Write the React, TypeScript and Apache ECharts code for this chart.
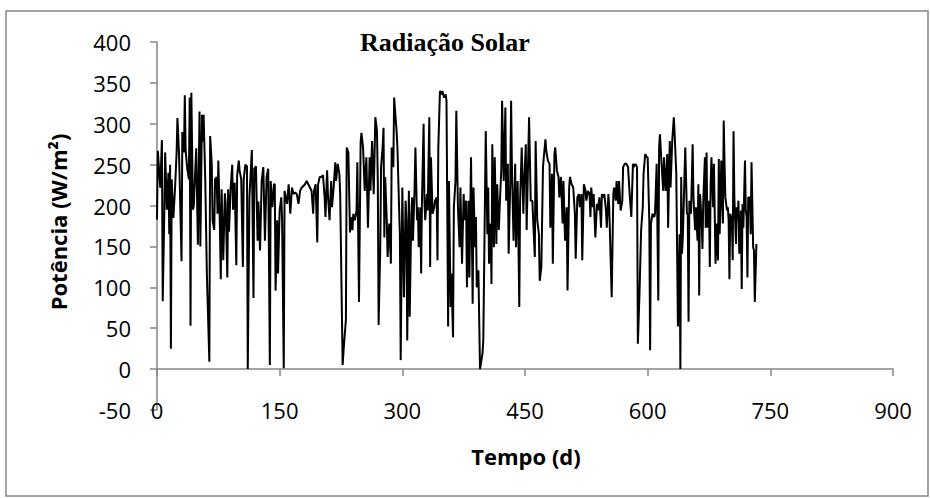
import React, { useEffect, useRef } from "react";
import * as echarts from "echarts";

// Tick settings
const xTicks = { min: 0, max: 900, interval: 150 };
const yTicks = { min: -50, max: 400, interval: 50 };

const chartTitle = "Radiação Solar";
const xName = "Tempo (d)";
const yName = "Potência (W/m²)";

// [day, W/m²], by segment
const year1a: [number, number][] = [
  [0, 183], [1, 267], [4, 222], [6, 280], [7, 83], [9, 195], [10, 265], [12, 195], [14, 240], [15, 165],
  [16, 250], [17, 25], [18, 232], [20, 185], [22, 220], [24, 265], [25, 307], [27, 262], [28, 220], [30, 132],
  [31, 290], [33, 265], [34, 335], [35, 268], [37, 245], [39, 232], [40, 332], [41, 53], [42, 338], [44, 195],
  [45, 200], [47, 248], [48, 270], [50, 152], [52, 315], [53, 150], [55, 311], [56, 278], [57, 311], [59, 232],
  [61, 115], [64, 9], [65, 285], [67, 250], [68, 182], [70, 170], [71, 232], [73, 235], [74, 190], [75, 255],
  [77, 170], [78, 110], [79, 220], [81, 133], [83, 215], [84, 202], [86, 112], [87, 220], [88, 168], [90, 220],
  [92, 250], [93, 195], [95, 228], [97, 127], [98, 237], [100, 255], [101, 243], [103, 232], [105, 125], [106, 232],
  [108, 250], [110, 248], [111, 0], [113, 210], [116, 268], [118, 87], [119, 245], [121, 248], [123, 157], [124, 205],
];
const year1b: [number, number][] = [
  [126, 145], [128, 230], [130, 247], [132, 157], [134, 235], [136, 245], [138, 5], [139, 230], [141, 198], [143, 226],
  [144, 226], [145, 96], [147, 182], [148, 117], [150, 194], [152, 210], [153, 182], [155, 1], [156, 218], [159, 202],
  [161, 226], [163, 190], [165, 222], [167, 214], [169, 216], [171, 214], [173, 202], [175, 218], [177, 222], [179, 224],
  [181, 226], [183, 230], [185, 226], [187, 222], [189, 218], [191, 190], [192, 218], [194, 226], [196, 155], [197, 226],
  [199, 235], [201, 235], [203, 237], [205, 210], [206, 186], [208, 243], [209, 214], [211, 182], [213, 230], [214, 198],
  [216, 222], [218, 253], [219, 230], [221, 251], [223, 239], [224, 214], [227, 5], [229, 35], [231, 60], [232, 271],
  [234, 265], [236, 167], [237, 186], [239, 170], [240, 190], [242, 182], [244, 194], [245, 253], [247, 82], [249, 277],
  [250, 289], [252, 271], [254, 218],
];
const year1c: [number, number][] = [
  [256, 259], [258, 173], [260, 259], [261, 218], [263, 279], [265, 214], [267, 308], [269, 291], [270, 230], [271, 54],
  [273, 149], [274, 247], [276, 273], [277, 295], [278, 161], [279, 235], [281, 182], [282, 137], [284, 178], [286, 129],
  [287, 271], [289, 247], [290, 332], [292, 304], [293, 291], [294, 271], [296, 198], [297, 165], [298, 11], [300, 222],
  [301, 157], [302, 88], [304, 206], [305, 182], [306, 35], [308, 218], [309, 64], [311, 190], [312, 210], [313, 157],
  [315, 222], [316, 271], [318, 182], [319, 198], [320, 149], [322, 198], [323, 117], [324, 206], [326, 300], [327, 206],
  [328, 182], [330, 214], [331, 194], [333, 308], [334, 125], [335, 259], [337, 190], [339, 198], [340, 206], [342, 210],
  [343, 133], [344, 271], [346, 340], [348, 336], [349, 340], [351, 332], [353, 336], [354, 328], [356, 52], [357, 230],
  [359, 76], [360, 117], [362, 39], [363, 198], [365, 230],
];
const year2a: [number, number][] = [
  [366, 316], [368, 198], [370, 149], [371, 222], [373, 129], [375, 214], [376, 182], [378, 206], [379, 100], [381, 206],
  [382, 112], [384, 259], [386, 80], [387, 222], [389, 149], [390, 186], [391, 100], [393, 121], [395, 0], [398, 19],
  [399, 35], [402, 291], [404, 165], [405, 222], [406, 129], [408, 178], [409, 104], [410, 275], [412, 149], [413, 259],
  [415, 153], [416, 226], [418, 170], [419, 198], [421, 243], [422, 328], [424, 230], [426, 320], [427, 206], [429, 251],
  [430, 141], [432, 230], [433, 328], [434, 247], [436, 157], [438, 251], [439, 149], [441, 230], [443, 76], [444, 206],
  [446, 271], [448, 190], [449, 230], [451, 275], [452, 170], [454, 263], [455, 308], [457, 206], [459, 206], [460, 182],
  [462, 137], [463, 279], [465, 182], [467, 165], [468, 108], [470, 125], [472, 247], [473, 259], [475, 281], [476, 267],
  [478, 255], [480, 251], [481, 173], [483, 239], [484, 129], [486, 263], [487, 271], [489, 243], [491, 235], [492, 210],
  [494, 235], [496, 178], [497, 230], [499, 157], [501, 198], [502, 96], [504, 222], [505, 235], [507, 226], [509, 222],
];
const year2b: [number, number][] = [
  [511, 190], [512, 135], [514, 210], [516, 214], [517, 198], [519, 214], [520, 133], [522, 226], [524, 218], [525, 206],
  [527, 218], [529, 214], [530, 186], [531, 222], [533, 198], [534, 214], [536, 161], [538, 202], [539, 194], [541, 210],
  [543, 173], [544, 214], [546, 210], [547, 214], [549, 194], [550, 173], [552, 214], [553, 198], [556, 88], [558, 214],
  [559, 222], [561, 206], [562, 230], [564, 202], [565, 230], [567, 194], [569, 206], [570, 247], [572, 251], [574, 251],
  [576, 247], [578, 214], [580, 186], [582, 251], [583, 247], [585, 251], [587, 247], [588, 31], [590, 92], [592, 170],
  [594, 198], [595, 239], [597, 263], [599, 259], [600, 259], [602, 182], [603, 23], [604, 178], [606, 190], [608, 186],
  [609, 190], [611, 251], [613, 84], [614, 271], [615, 287], [617, 251], [619, 218], [620, 259], [622, 218], [624, 263],
  [625, 173], [627, 279], [628, 222], [630, 279], [632, 308], [633, 287], [635, 239], [637, 52], [639, 165],
];
const year2c: [number, number][] = [
  [640, 0], [641, 235], [642, 141], [643, 161], [645, 235], [646, 271], [648, 190], [649, 190], [650, 58], [651, 206],
  [653, 190], [655, 275], [656, 210], [658, 170], [659, 198], [661, 157], [662, 226], [663, 90], [664, 214], [666, 182],
  [667, 147], [668, 206], [670, 259], [671, 173], [672, 265], [673, 173], [675, 206], [676, 125], [677, 226], [678, 259],
  [680, 198], [681, 251], [682, 190], [683, 129], [684, 178], [686, 133], [687, 257], [688, 165], [689, 198], [690, 255],
  [692, 178], [693, 304], [694, 251], [695, 210], [697, 194], [698, 198], [699, 182], [700, 110], [701, 190], [703, 182],
  [704, 133], [705, 291], [706, 210], [708, 153], [709, 198], [710, 182], [711, 206], [712, 141], [714, 194], [715, 98],
  [716, 202], [717, 173], [719, 255], [720, 194], [721, 186], [722, 112], [723, 210], [725, 210], [726, 165], [727, 253],
  [729, 149], [730, 145], [731, 82], [733, 153],
];

const radiation = [...year1a, ...year1b, ...year1c, ...year2a, ...year2b, ...year2c];

const AXIS_GRAY = "#868686";
const LABEL_FONT = "'Open Sans', 'DejaVu Sans', sans-serif";

export default function App() {
  const ref = useRef<HTMLDivElement>(null);

  useEffect(() => {
    if (!ref.current) return;
    const chart = echarts.init(ref.current, undefined, { renderer: "svg" });
    const axisLabel = { fontSize: 22, fontFamily: LABEL_FONT, color: "#000" };
    chart.setOption({
      animation: false,
      backgroundColor: "#fff",
      grid: { left: 157, top: 42, width: 736, height: 368, outerBoundsMode: "none" },
      xAxis: {
        type: "value",
        min: xTicks.min,
        max: xTicks.max,
        interval: xTicks.interval,
        axisLine: { show: true, onZero: true, lineStyle: { color: AXIS_GRAY, width: 1.5 } },
        axisTick: { show: true, length: 7, lineStyle: { color: AXIS_GRAY, width: 1.5 } },
        axisLabel: { ...axisLabel, margin: -11 },
        splitLine: { show: false },
      },
      yAxis: {
        type: "value",
        min: yTicks.min,
        max: yTicks.max,
        interval: yTicks.interval,
        axisLine: { show: true, onZero: false, lineStyle: { color: AXIS_GRAY, width: 1.5 } },
        axisTick: { show: true, length: 7, lineStyle: { color: AXIS_GRAY, width: 1.5 } },
        axisLabel: { ...axisLabel, margin: 26 },
        splitLine: { show: false },
      },
      series: [
        {
          type: "line",
          data: radiation,
          showSymbol: false,
          symbol: "none",
          silent: true,
          lineStyle: { color: "#000", width: 2 },
        },
      ],
      graphic: [
        {
          type: "rect",
          shape: { x: 6, y: 11, width: 922, height: 485 },
          style: { fill: "none", stroke: AXIS_GRAY, lineWidth: 1.5 },
          silent: true,
        },
        {
          type: "text",
          x: 360,
          y: 42,
          style: {
            text: chartTitle,
            font: "bold 26px 'Liberation Serif', 'DejaVu Serif', serif",
            fill: "#000",
            align: "left",
            verticalAlign: "middle",
          },
        },
        {
          type: "text",
          x: 58,
          y: 222,
          rotation: Math.PI / 2,
          style: {
            text: yName,
            font: "bold 22px " + LABEL_FONT,
            fill: "#000",
            align: "center",
            verticalAlign: "middle",
          },
        },
        {
          type: "text",
          x: 526,
          y: 456,
          style: {
            text: xName,
            font: "bold 22px " + LABEL_FONT,
            fill: "#000",
            align: "center",
            verticalAlign: "middle",
          },
        },
      ],
    });
    return () => chart.dispose();
  }, []);

  return (
    <div
      ref={ref}
      style={{ position: "absolute", left: 0, top: 0, width: 930, height: 498, background: "#fff" }}
    />
  );
}
